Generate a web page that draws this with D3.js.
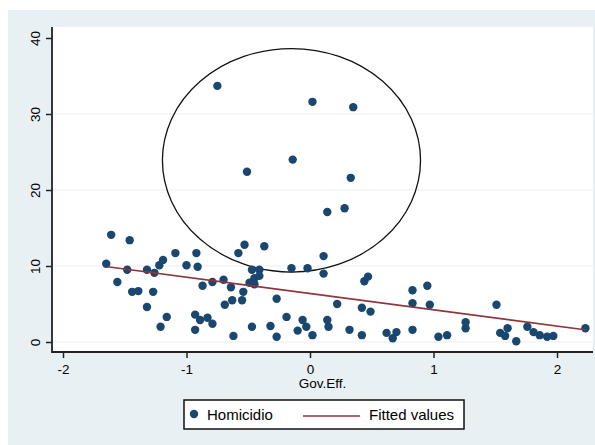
<!DOCTYPE html>
<html>
<head>
<meta charset="utf-8">
<script src="https://cdn.jsdelivr.net/npm/d3@7"></script>
<style>
    body { margin: 0; background: #fff; }
    svg { display: block; }
    text { font-family: Arial, "Liberation Sans", sans-serif; fill: #000; }
</style>
</head>
<body>
<svg id="chart" width="595" height="445"></svg>
<script>

// Data
var govEff = [
    -1.61, -1.46, -1.65, -1.48, -1.56, -1.44, -1.39, -1.27, -1.32, -1.32,
    -1.26, -1.22, -1.19, -1.09, -1.00, -0.92, -0.91, -0.87, -0.79, -0.70,
    -0.64, -0.69, -0.63, -0.55, -0.54, -0.53, -0.58, -0.37, -0.47, -0.41,
    -0.45, -0.45, -0.41, -0.49, -0.27, -0.15, -0.02, -1.16, -1.21, -0.93,
    -0.89, -0.83, -0.79, -0.93, -0.62, -0.47, -0.32, -0.27, -0.19, -0.10,
    -0.03,  0.11,  0.11,  0.47,  0.44,  0.22,  0.42,  0.49,  0.83,  0.95,
     0.83,  0.97, -0.06,  0.02,  0.14,  0.15,  0.32,  0.42,  0.62,  0.67,
     0.70,  0.83,  1.04,  1.11,  1.26,  1.26,  1.51,  1.54,  1.60,  1.58,
     1.67,  1.76,  1.81,  1.86,  1.92,  1.97,  2.23,
    -0.75,  0.02,  0.35, -0.14, -0.51,  0.33,  0.14,  0.28
];
var homicidio = [
    14.1, 13.4, 10.3,  9.5,  7.9,  6.6,  6.7,  6.6,  4.6,  9.5,
     9.1, 10.1, 10.8, 11.7, 10.1, 11.7,  9.9,  7.4,  7.9,  8.2,
     7.2,  4.9,  5.5,  5.5,  6.6, 12.8, 11.7, 12.6,  9.5,  9.5,
     8.4,  7.6,  8.7,  7.8,  5.7,  9.7,  9.7,  3.3,  2.0,  3.6,
     2.9,  3.2,  2.4,  1.6,  0.8,  2.0,  2.1,  0.7,  3.3,  1.5,
     2.0, 11.3,  9.0,  8.6,  8.0,  5.0,  4.5,  4.0,  6.8,  7.4,
     5.1,  4.9,  2.9,  0.9,  2.9,  2.0,  1.6,  0.9,  1.2,  0.5,
     1.3,  1.6,  0.7,  0.9,  2.6,  1.8,  4.9,  1.2,  1.8,  0.8,
     0.1,  2.0,  1.3,  0.9,  0.7,  0.8,  1.8,
    33.7, 31.6, 30.9, 24.0, 22.4, 21.6, 17.1, 17.6
];

// Fitted values (ends of the regression line)
var fitX = [-1.64, 2.24];
var fitY = [9.9, 1.58];

var xTicks = [-2, -1, 0, 1, 2];
var yTicks = [0, 10, 20, 30, 40];
var gridTicks = [0, 10, 20, 30];

// Hand-drawn ring around the high values, in data units
var ringCenter = [-0.15, 23.9],
    ringRadius = [1.045, 14.7];

var colors = {
    page: '#e9f0f3',
    grid: '#e7eff1',
    marker: '#1a476f',
    fit: '#90353b'
};

var svg = d3.select('#chart');

var x = d3.scaleLinear().domain([-2, 2]).range([63, 557]);
var y = d3.scaleLinear().domain([0, 40]).range([342, 38]);

var plot = { left: 52, right: 593, top: 27, bottom: 352 };

// plain hyphen for negatives, like the original
var tickFmt = function(d){ return String(d); };

// graph region + plot region
svg.append('rect')
    .attr('x', 8).attr('y', 10)
    .attr('width', 595 - 8).attr('height', 445 - 10)
    .attr('fill', colors.page);

svg.append('rect')
    .attr('x', plot.left).attr('y', plot.top)
    .attr('width', plot.right - plot.left).attr('height', plot.bottom - plot.top)
    .attr('fill', '#fff');

// gridlines
svg.append('g').selectAll('line')
    .data(gridTicks)
    .enter().append('line')
    .attr('x1', plot.left).attr('x2', plot.right)
    .attr('y1', function(d){ return y(d); })
    .attr('y2', function(d){ return y(d); })
    .attr('stroke', colors.grid)
    .attr('stroke-width', 1.2);

// ring
svg.append('ellipse')
    .attr('cx', x(ringCenter[0]))
    .attr('cy', y(ringCenter[1]))
    .attr('rx', x(ringCenter[0] + ringRadius[0]) - x(ringCenter[0]))
    .attr('ry', y(ringCenter[1] - ringRadius[1]) - y(ringCenter[1]))
    .attr('fill', 'none')
    .attr('stroke', '#111')
    .attr('stroke-width', 1.3);

// scatter
svg.append('g').selectAll('circle')
    .data(govEff)
    .enter().append('circle')
    .attr('cx', function(d){ return x(d); })
    .attr('cy', function(d, i){ return y(homicidio[i]); })
    .attr('r', 4.2)
    .attr('fill', colors.marker);

// fitted line
var fitLine = d3.line()
    .x(function(d){ return x(d); })
    .y(function(d, i){ return y(fitY[i]); });

svg.append('path')
    .attr('d', fitLine(fitX))
    .attr('fill', 'none')
    .attr('stroke', colors.fit)
    .attr('stroke-width', 1.6);

// axes
var yAxis = svg.append('g')
    .attr('transform', 'translate(' + plot.left + ',0)')
    .call(d3.axisLeft(y).tickValues(yTicks).tickFormat(tickFmt).tickSize(6).tickSizeOuter(0));

yAxis.select('.domain').remove();
yAxis.selectAll('.tick line').attr('stroke', '#222').attr('stroke-width', 1.5);
yAxis.selectAll('.tick text')
    .attr('x', 0).attr('y', -12).attr('dy', 0)
    .attr('transform', 'rotate(-90)')
    .attr('text-anchor', 'middle')
    .style('font-size', '13.5px');

var xAxis = svg.append('g')
    .attr('transform', 'translate(0,' + plot.bottom + ')')
    .call(d3.axisBottom(x).tickValues(xTicks).tickFormat(tickFmt).tickSize(6).tickSizeOuter(0));

xAxis.select('.domain').remove();
xAxis.selectAll('.tick line').attr('stroke', '#222').attr('stroke-width', 1.5);
xAxis.selectAll('.tick text')
    .attr('y', 22).attr('dy', 0)
    .style('font-size', '13.5px');

svg.selectAll('.tick text').attr('font-family', null);

svg.append('path')
    .attr('d', 'M' + plot.left + ',' + plot.top + 'V' + plot.bottom + 'H' + plot.right)
    .attr('fill', 'none')
    .attr('stroke', '#222')
    .attr('stroke-width', 1.8);

svg.append('text')
    .attr('x', (plot.left + plot.right) / 2)
    .attr('y', 388)
    .attr('text-anchor', 'middle')
    .style('font-size', '13.5px')
    .text('Gov.Eff.');

// legend
var legend = svg.append('g');

legend.append('rect')
    .attr('x', 184).attr('y', 400)
    .attr('width', 280).attr('height', 29)
    .attr('fill', '#fff')
    .attr('stroke', '#111')
    .attr('stroke-width', 1.5);

legend.append('circle')
    .attr('cx', 194).attr('cy', 414)
    .attr('r', 4.2)
    .attr('fill', colors.marker);

legend.append('text')
    .attr('x', 207).attr('y', 420)
    .style('font-size', '15px')
    .text('Homicidio');

legend.append('line')
    .attr('x1', 303).attr('x2', 360)
    .attr('y1', 416).attr('y2', 416)
    .attr('stroke', colors.fit)
    .attr('stroke-width', 1.6);

legend.append('text')
    .attr('x', 369).attr('y', 420)
    .style('font-size', '15px')
    .text('Fitted values');

</script>
</body>
</html>
